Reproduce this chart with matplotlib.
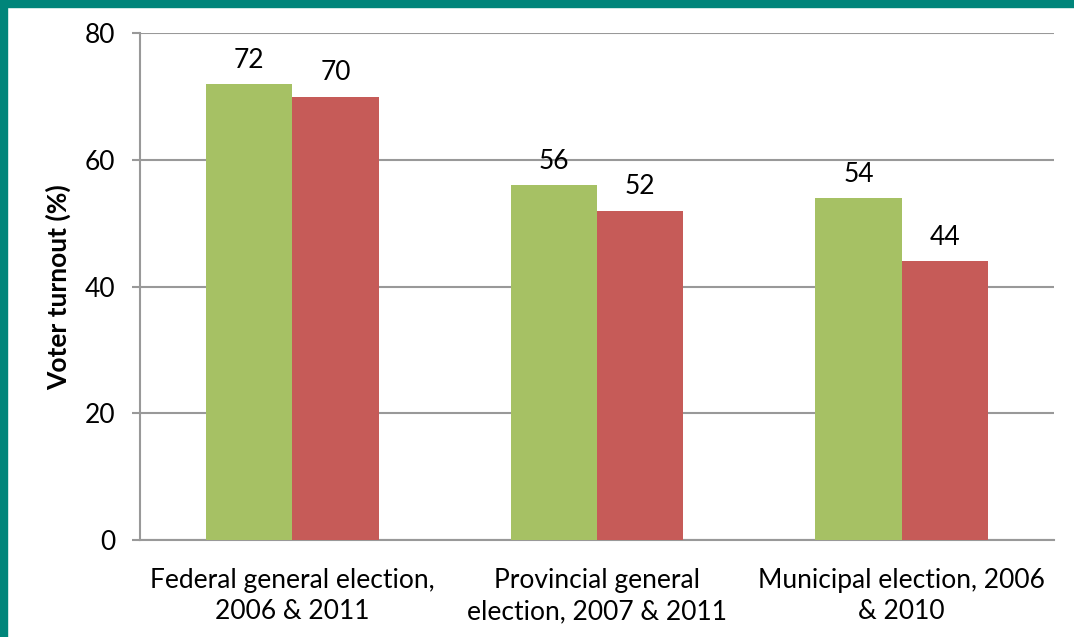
import matplotlib
matplotlib.use("Agg")
import matplotlib.pyplot as plt
from matplotlib.patches import Rectangle
import numpy as np

# chart data
categories = [
    "Federal general election,\n2006 & 2011",
    "Provincial general\nelection, 2007 & 2011",
    "Municipal election, 2006\n& 2010",
]
first_election = [72, 56, 54]
second_election = [70, 52, 44]
y_ticks = [0, 20, 40, 60, 80]

plt.rcParams["font.family"] = ["Lato", "DejaVu Sans"]

fig = plt.figure(figsize=(10.74, 6.37), dpi=100)
ax = fig.add_axes([0.1304, 0.152, 0.851, 0.796])

# teal frame on the left and top edges
fig.patches.append(Rectangle((0, 0), 7 / 1074, 1, transform=fig.transFigure,
                             color="#00857A", zorder=10))
fig.patches.append(Rectangle((0, 1 - 7 / 637), 1, 7 / 637, transform=fig.transFigure,
                             color="#00857A", zorder=10))

x = np.arange(len(categories))
width = 0.283
green_bars = ax.bar(x - width / 2, first_election, width, color="#A6C164", zorder=3)
red_bars = ax.bar(x + width / 2, second_election, width, color="#C65B58", zorder=3)

for bars in (green_bars, red_bars):
    for bar in bars:
        ax.annotate(f"{bar.get_height():.0f}",
                    (bar.get_x() + bar.get_width() / 2, bar.get_height()),
                    xytext=(0, 8), textcoords="offset points",
                    ha="center", va="bottom", fontsize=19)

ax.set_xlim(-0.5, 2.5)
ax.set_ylim(0, 80)
ax.set_yticks(y_ticks)
ax.set_xticks(x)
ax.set_xticklabels(categories, fontsize=19, linespacing=1.3)
ax.tick_params(axis="x", length=0, pad=20)
ax.tick_params(axis="y", length=6, width=1.5, color="#999999", labelsize=19, pad=12)

ax.yaxis.grid(True, color="#999999", linewidth=1.5, zorder=0)
for side in ("top", "right"):
    ax.spines[side].set_visible(False)
for side in ("left", "bottom"):
    ax.spines[side].set_color("#999999")
    ax.spines[side].set_linewidth(1.5)

ax.set_ylabel("Voter turnout (%)", fontsize=19, fontweight="bold")
ax.yaxis.set_label_coords(-0.075, 0.5)

fig.savefig("out.png", dpi=100)
